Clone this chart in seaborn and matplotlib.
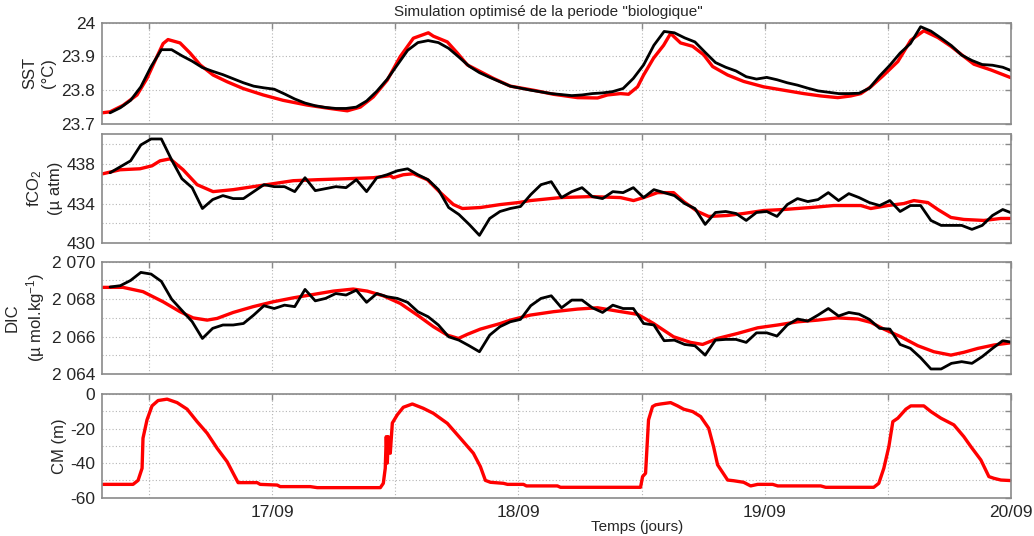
import numpy as np
import matplotlib
matplotlib.use("Agg")
import matplotlib.pyplot as plt
import seaborn as sns

# observations, hourly from 16/09 08:12
obs_hours = 8.2 + np.arange(89)

sst_obs = [
    23.733, 23.748, 23.770, 23.810, 23.870, 23.920, 23.920, 23.902, 23.886, 23.867,
    23.856, 23.846, 23.834, 23.822, 23.812, 23.807, 23.803, 23.789, 23.774, 23.762,
    23.754, 23.749, 23.746, 23.746, 23.750, 23.768, 23.797, 23.832, 23.875, 23.918,
    23.941, 23.947, 23.941, 23.924, 23.898, 23.871, 23.852, 23.838, 23.825, 23.812,
    23.806, 23.800, 23.795, 23.790, 23.787, 23.784, 23.786, 23.790, 23.792, 23.796,
    23.805, 23.835, 23.875, 23.933, 23.974, 23.970, 23.955, 23.943, 23.912, 23.882,
    23.868, 23.857, 23.840, 23.833, 23.838, 23.831, 23.822, 23.815, 23.806, 23.798,
    23.794, 23.790, 23.790, 23.791, 23.806, 23.842, 23.874, 23.910, 23.938, 23.988,
    23.975, 23.954, 23.932, 23.904, 23.888, 23.876, 23.874, 23.868, 23.856,
]

fco2_obs = [
    437.1, 437.7, 438.3, 439.9, 440.5, 440.5, 438.4, 436.5, 435.6, 433.5,
    434.4, 434.8, 434.5, 434.5, 435.2, 435.9, 435.7, 435.7, 435.2, 436.6,
    435.3, 435.5, 435.7, 435.6, 436.4, 435.2, 436.6, 436.9, 437.3, 437.5,
    436.9, 436.4, 435.4, 433.6, 432.9, 431.9, 430.8, 432.5, 433.2, 433.5,
    433.7, 434.9, 435.9, 436.2, 434.6, 435.2, 435.6, 434.7, 434.5, 435.2,
    435.1, 435.6, 434.6, 435.4, 435.1, 434.8, 434.0, 433.5, 431.9, 433.1,
    433.2, 433.0, 432.3, 433.1, 433.2, 432.7, 433.9, 434.5, 434.2, 434.4,
    435.1, 434.3, 435.0, 434.6, 434.1, 433.8, 434.3, 433.2, 433.8, 433.8,
    432.3, 431.8, 431.8, 431.8, 431.4, 431.8, 432.8, 433.4, 433.0,
]

dic_obs = [
    2068.65, 2068.72, 2069.00, 2069.43, 2069.34, 2068.95, 2068.00, 2067.40, 2066.80, 2065.90,
    2066.44, 2066.62, 2066.62, 2066.70, 2067.15, 2067.65, 2067.50, 2067.68, 2067.60, 2068.52,
    2067.91, 2068.04, 2068.30, 2068.22, 2068.48, 2067.83, 2068.30, 2068.13, 2068.04, 2067.83,
    2067.33, 2067.06, 2066.62, 2065.99, 2065.81, 2065.51, 2065.19, 2066.08, 2066.53, 2066.79,
    2066.92, 2067.65, 2068.04, 2068.18, 2067.54, 2067.95, 2067.95, 2067.54, 2067.29, 2067.68,
    2067.50, 2067.50, 2066.70, 2066.62, 2065.78, 2065.81, 2065.58, 2065.51, 2065.01, 2065.81,
    2065.85, 2065.85, 2065.69, 2066.20, 2066.20, 2066.03, 2066.62, 2066.94, 2066.83, 2067.15,
    2067.50, 2067.10, 2067.29, 2067.20, 2066.92, 2066.44, 2066.40, 2065.58, 2065.37, 2064.87,
    2064.27, 2064.27, 2064.57, 2064.66, 2064.57, 2064.93, 2065.37, 2065.78, 2065.69,
]

# simulation (hours since 16/09 00:00)
sst_sim_h = [7.41, 8.2, 9.46, 10.83, 11.8, 12.78, 13.37, 13.85, 15.02, 16.0, 16.98, 18.24,
             19.61, 21.17, 23.12, 25.07, 27.41, 29.37, 31.32, 32.59, 33.85, 35.22, 36.49,
             37.76, 39.22, 39.71, 41.07, 42.05, 43.02, 44.29, 45.56, 47.22, 49.46, 51.41,
             53.76, 55.71, 56.68, 57.95, 58.73, 59.61, 60.2, 61.17, 62.15, 62.83, 63.8,
             64.98, 66.05, 66.93, 68.39, 69.95, 71.9, 73.85, 75.8, 77.46, 79.12, 80.39,
             81.37, 82.34, 83.61, 84.98, 86.24, 87.51, 88.88, 90.15, 91.41, 92.39, 94.05, 96.0]
sst_sim = [23.733, 23.736, 23.755, 23.786, 23.835, 23.9, 23.938, 23.95, 23.94, 23.91, 23.875,
           23.845, 23.825, 23.805, 23.786, 23.77, 23.756, 23.747, 23.739, 23.75, 23.78, 23.83,
           23.9, 23.954, 23.97, 23.96, 23.943, 23.91, 23.875, 23.855, 23.835, 23.812, 23.8,
           23.788, 23.778, 23.777, 23.786, 23.79, 23.788, 23.81, 23.845, 23.895, 23.933,
           23.968, 23.94, 23.93, 23.905, 23.87, 23.845, 23.826, 23.81, 23.8, 23.79, 23.783,
           23.778, 23.783, 23.79, 23.81, 23.845, 23.885, 23.948, 23.976, 23.956, 23.93, 23.9,
           23.877, 23.86, 23.837]

fco2_sim_h = [7.51, 9.17, 11.12, 12.29, 13.07, 14.05, 15.32, 16.68, 18.24, 20.2, 22.15, 24.1,
              26.05, 28.39, 31.32, 33.85, 35.51, 35.8, 36.78, 37.76, 39.12, 40.39, 41.66,
              42.54, 44.29, 46.24, 48.0, 49.17, 52.1, 55.02, 57.95, 59.22, 60.2, 61.56, 63.12,
              64.1, 65.46, 66.54, 68.39, 69.95, 71.9, 73.85, 76.49, 78.73, 81.37, 82.34, 84.0,
              85.56, 86.54, 87.9, 88.88, 90.15, 91.41, 93.37, 95.02, 96.29]
fco2_sim = [437.0, 437.4, 437.5, 437.8, 438.3, 438.5, 437.4, 435.9, 435.2, 435.4, 435.7, 436.0,
            436.3, 436.4, 436.5, 436.6, 436.8, 436.6, 436.9, 437.0, 436.4, 435.1, 433.9, 433.5,
            433.6, 433.9, 434.1, 434.3, 434.6, 434.7, 434.6, 434.3, 434.6, 435.1, 435.1, 434.2,
            433.2, 432.7, 432.8, 433.0, 433.3, 433.4, 433.6, 433.8, 433.8, 433.5, 433.8, 434.0,
            434.3, 434.1, 433.4, 432.6, 432.4, 432.3, 432.5, 432.5]

dic_sim_h = [7.51, 9.46, 11.41, 13.37, 15.02, 16.29, 17.66, 18.63, 20.2, 22.15, 24.1, 26.05,
             28.0, 29.95, 31.9, 33.27, 34.83, 36.49, 38.15, 39.71, 41.07, 42.15, 43.02, 44.29,
             46.24, 47.22, 49.17, 51.41, 53.76, 55.71, 57.66, 59.61, 61.17, 63.12, 64.78,
             65.95, 67.41, 69.37, 71.32, 73.27, 75.22, 77.17, 79.12, 81.07, 82.34, 83.61,
             85.27, 86.93, 88.49, 90.15, 91.41, 92.78, 94.34, 96.29]
dic_sim = [2068.63, 2068.63, 2068.4, 2067.86, 2067.33, 2067.0, 2066.88, 2066.97, 2067.29,
           2067.6, 2067.86, 2068.07, 2068.25, 2068.43, 2068.54, 2068.43, 2068.18, 2067.77,
           2067.15, 2066.53, 2066.08, 2065.9, 2066.12, 2066.4, 2066.7, 2066.88, 2067.15,
           2067.33, 2067.47, 2067.54, 2067.36, 2067.19, 2066.7, 2065.99, 2065.69, 2065.58,
           2065.9, 2066.17, 2066.47, 2066.62, 2066.79, 2066.88, 2067.0, 2066.94, 2066.76,
           2066.4, 2065.99, 2065.51, 2065.19, 2065.01, 2065.16, 2065.37, 2065.55, 2065.69]

cm_sim_h = [7.51, 10.44, 10.93, 11.32, 11.41, 11.8, 12.29, 12.88, 13.76, 14.73, 15.71, 16.68,
            17.66, 18.63, 19.61, 20.2, 20.68, 22.54, 22.83, 24.49, 24.78, 27.71, 28.39, 34.54,
            34.83, 35.02, 35.12, 35.22, 35.32, 35.51, 35.71, 36.2, 36.78, 37.66, 38.73, 39.71,
            41.07, 42.34, 43.61, 44.29, 44.78, 45.27, 46.54, 46.93, 48.49, 48.78, 51.8, 52.1,
            59.9, 60.1, 60.39, 60.68, 61.07, 61.37, 61.85, 62.83, 63.51, 64.1, 64.98, 65.76,
            66.54, 67.02, 67.41, 68.39, 68.98, 69.95, 70.63, 71.32, 72.78, 73.27, 77.46, 77.95,
            82.63, 83.12, 83.61, 84.1, 84.49, 84.98, 85.76, 86.24, 87.51, 88.2, 89.17, 90.44,
            91.41, 92.1, 93.07, 93.85, 94.34, 95.02, 96.29]
cm_sim = [-52.3, -52.3, -50, -43, -25.6, -15, -6.9, -3.8, -3.0, -5.0, -8.8, -16,
          -22.7, -31.4, -39.2, -45.9, -51.3, -51.3, -52.3, -52.7, -53.6, -53.6, -54.2, -54.2,
          -51.7, -43, -24.7, -40, -24.7, -34.3, -16.8, -12, -7.7, -5.8, -8.3, -11.2,
          -17, -25.6, -34.3, -42, -50, -51.1, -51.7, -52.3, -52.3, -53.2, -53.2, -54,
          -54, -47.8, -45.9, -15, -7.3, -6.3, -5.8, -5.0, -6.9, -8.8, -10.2, -13.1,
          -19.8, -30.5, -41, -49.8, -50.2, -51.1, -53.2, -52.3, -52.3, -53.2, -53.2, -54,
          -54, -51.7, -43, -30.5, -16, -14, -8.8, -6.9, -6.9, -10.2, -14, -17.9,
          -24.7, -30.5, -38.2, -47.8, -48.8, -49.8, -50.2]

panels = [
    ("SST\n(°C)", sst_sim_h, sst_sim, sst_obs, (23.7, 24.0),
     [23.7, 23.8, 23.9, 24.0], ["23.7", "23.8", "23.9", "24"]),
    ("fCO$_2$\n(µ atm)", fco2_sim_h, fco2_sim, fco2_obs, (430, 441),
     [430, 432, 434, 436, 438, 440], ["430", "", "434", "", "438", ""]),
    ("DIC\n(µ mol.kg$^{-1}$)", dic_sim_h, dic_sim, dic_obs, (2064, 2070),
     [2064, 2065, 2066, 2067, 2068, 2069, 2070],
     ["2 064", "", "2 066", "", "2 068", "", "2 070"]),
    ("CM (m)", cm_sim_h, cm_sim, None, (-60, 0),
     [-60, -50, -40, -30, -20, -10, 0], ["-60", "", "-40", "", "-20", "", "0"]),
]

day_ticks = [16.5, 17, 17.5, 18, 18.5, 19, 19.5, 20]
day_labels = ["", "17/09", "", "18/09", "", "19/09", "", "20/09"]

sns.set_style("white")
plt.rcParams["font.family"] = ["Liberation Sans", "DejaVu Sans"]
plt.rcParams["mathtext.fontset"] = "custom"
plt.rcParams["mathtext.rm"] = "Liberation Sans"
plt.rcParams["mathtext.it"] = "Liberation Sans"

fig = plt.figure(figsize=(10.34, 5.36), dpi=100)
boxes = [
    [0.0986, 0.7687, 0.8791, 0.1890],
    [0.0986, 0.5461, 0.8791, 0.2039],
    [0.0986, 0.3022, 0.8791, 0.2095],
    [0.0986, 0.0715, 0.8791, 0.1935],
]
label_x = [-0.051, -0.043, -0.060, -0.038]

grey = "#8a8a8a"
for i, (ylab, sim_h, sim, obs, ylim, yt, ytl) in enumerate(panels):
    ax = fig.add_axes(boxes[i])
    sim_day = 16 + np.array(sim_h) / 24
    sns.lineplot(x=sim_day, y=sim, color="#ff0000", lw=2.4, sort=False,
                 estimator=None, ax=ax)
    if obs is not None:
        sns.lineplot(x=16 + obs_hours / 24, y=obs, color="black", lw=2.0,
                     sort=False, estimator=None, ax=ax)
    ax.set_xlim(16 + 7.41 / 24, 20.0)
    ax.set_ylim(*ylim)
    ax.set_yticks(yt)
    ax.set_yticklabels(ytl)
    ax.set_xticks(day_ticks)
    if i == 3:
        ax.set_xticklabels(day_labels)
    else:
        ax.set_xticklabels([])
    ax.grid(True, linestyle=(0, (1, 2)), color="#b5b5b5", lw=0.8)
    ax.tick_params(direction="in", length=4, width=1, color=grey, top=True,
                   right=True, labelsize=12.5, pad=5)
    for s in ax.spines.values():
        s.set_color(grey)
        s.set_linewidth(1.2)
    ax.set_ylabel(ylab, fontsize=12, linespacing=1.3)
    ax.yaxis.set_label_coords(label_x[i], 0.5)

fig.text(0.53, 0.978, 'Simulation optimisé de la periode "biologique"',
         ha="center", va="center", fontsize=11)
fig.text(0.616, 0.017, "Temps (jours)", ha="center", va="center", fontsize=11)

fig.savefig("out.png", dpi=100)
